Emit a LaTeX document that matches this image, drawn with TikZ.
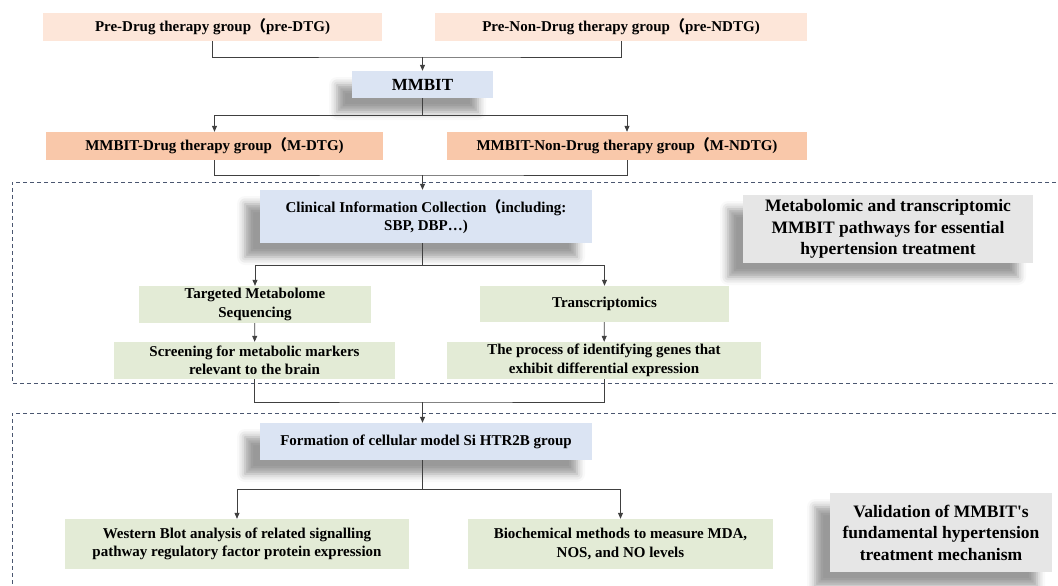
\documentclass[tikz,border=0pt]{standalone}
\usepackage{fontspec}
\setmainfont{Liberation Serif}
\newfontfamily\cjk{Noto Sans CJK SC}
\usetikzlibrary{arrows.meta,positioning,shadows.blur}

\definecolor{peachlt}{HTML}{FDE6D9}
\definecolor{peachdk}{HTML}{F9C8AA}
\definecolor{bluebox}{HTML}{DBE4F3}
\definecolor{greenbox}{HTML}{E3EBD6}
\definecolor{graybox}{HTML}{E6E6E6}
\definecolor{lineclr}{HTML}{404040}
\definecolor{dashclr}{HTML}{4A5670}

\newcommand{\fpar}{{\cjk （}}

\begin{document}
\begin{tikzpicture}[x=1pt,y=-1pt,
  box/.style={inner sep=0pt, align=center, font=\bfseries\fontsize{15}{18.5}\selectfont},
  bigbox/.style={box, fill=graybox, shad, font=\bfseries\fontsize{17.5}{21.5}\selectfont},
  shad/.style={blur shadow={shadow xshift=-15pt, shadow yshift=-14pt, shadow blur radius=8pt, shadow opacity=40}},
  conn/.style={draw=lineclr, line width=0.8pt},
  arr/.style={conn, -{Triangle[length=6pt,width=5pt]}},
  dashline/.style={draw=dashclr, line width=0.8pt, dash pattern=on 4pt off 3pt}]

  \useasboundingbox (0,0) rectangle (1058,586);

  % group boxes
  \draw[dashline] (1056,182) -| (12,383) -- (1056,383);
  \draw[dashline] (1056,413) -| (12,590);

  % top part
  \node[box, fill=peachlt, minimum width=339pt, minimum height=28pt] (pdtg) at (212.5,27) {Pre-Drug therapy group\fpar pre-DTG)};
  \node[box, fill=peachlt, minimum width=372pt, minimum height=28pt] (pndtg) at (621,27) {Pre-Non-Drug therapy group\fpar pre-NDTG)};
  \node[box, fill=bluebox, shad, minimum width=141pt, minimum height=27pt, font=\bfseries\fontsize{17}{20}\selectfont] (mmbit) at (422.5,84.5) {MMBIT};
  \node[box, fill=peachdk, minimum width=337pt, minimum height=28pt] (mdtg) at (214.5,146) {MMBIT-Drug therapy group\fpar M-DTG)};
  \node[box, fill=peachdk, minimum width=360pt, minimum height=28pt] (mndtg) at (627,146) {MMBIT-Non-Drug therapy group\fpar M-NDTG)};

  % omics part
  \node[box, fill=bluebox, shad, minimum width=332pt, minimum height=53pt] (clin) at (426,216.5) {Clinical Information Collection\fpar including:\\SBP, DBP\dots)};
  \node[box, fill=greenbox, minimum width=232pt, minimum height=37pt] (targ) at (255,304.5) {Targeted Metabolome\\Sequencing};
  \node[box, fill=greenbox, minimum width=249pt, minimum height=36pt] (trans) at (604.5,304) {Transcriptomics};
  \node[box, fill=greenbox, minimum width=281pt, minimum height=37pt] (screen) at (254.5,360.5) {Screening for metabolic markers\\relevant to the brain};
  \node[box, fill=greenbox, minimum width=314pt, minimum height=37pt] (proc) at (604,360.5) {The process of identifying genes that\\exhibit differential expression};
  \node[bigbox, minimum width=290pt, minimum height=68pt] (metab) at (888,229) {Metabolomic and transcriptomic\\MMBIT pathways for essential\\hypertension treatment};

  % validation part
  \node[box, fill=bluebox, shad, minimum width=332pt, minimum height=37pt] (form) at (426,441.5) {Formation of cellular model Si HTR2B group};
  \node[box, fill=greenbox, minimum width=344pt, minimum height=50pt] (west) at (237,544) {Western Blot analysis of related signalling\\pathway regulatory factor protein expression};
  \node[box, fill=greenbox, minimum width=305pt, minimum height=50pt] (bioc) at (620.5,544) {Biochemical methods to measure MDA,\\NOS, and NO levels};
  \node[bigbox, minimum width=222pt, minimum height=79pt] (valid) at (941,532.5) {Validation of MMBIT\textquotesingle s\\fundamental hypertension\\treatment mechanism};

  % connectors
  \coordinate (j1) at (mmbit.north |- 0,57);
  \draw[conn] (pdtg.south) |- (j1) -| (pndtg.south);
  \draw[arr] (j1) -- (mmbit.north);

  \coordinate (j2) at (mmbit.south |- 0,115);
  \draw[conn] (mmbit.south) -- (j2);
  \draw[arr] (j2) -| (mdtg.north);
  \draw[arr] (j2) -| (mndtg.north);

  \coordinate (j3) at (mmbit.south |- 0,175);
  \draw[conn] (mdtg.south) |- (j3) -| (mndtg.south);
  \draw[arr] (j3) -- (mmbit.south |- clin.north);

  \coordinate (j4) at (mmbit.south |- 0,265);
  \draw[conn] (mmbit.south |- clin.south) -- (j4);
  \draw[arr] (j4) -| (targ.north);
  \draw[arr] (j4) -| (trans.north);
  \draw[arr] (targ) -- (screen);
  \draw[arr] (trans) -- (proc);

  \coordinate (j5) at (mmbit.south |- 0,402);
  \draw[conn] (screen.south) |- (j5) -| (proc.south);
  \draw[arr] (j5) -- (mmbit.south |- form.north);

  \coordinate (j6) at (mmbit.south |- 0,489);
  \draw[conn] (mmbit.south |- form.south) -- (j6);
  \draw[arr] (j6) -| (west.north);
  \draw[arr] (j6) -| (bioc.north);

\end{tikzpicture}
\end{document}
